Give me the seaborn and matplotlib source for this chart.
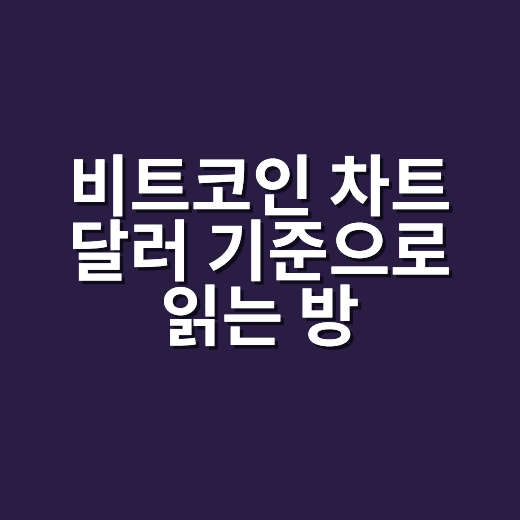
import matplotlib
matplotlib.use("Agg")
import matplotlib.pyplot as plt
import matplotlib.patheffects as pe
import seaborn as sns

# title lines shown on the card
lines = ["비트코인 차트", "달러 기준으로", "읽는 방"]
line_y = [0.633, 0.508, 0.383]

sns.set_theme(style="white")
plt.rcParams['font.family'] = ['Noto Sans CJK KR', 'DejaVu Sans']

bg = "#2a1d44"
fig = plt.figure(figsize=(5.2, 5.2), dpi=100, facecolor=bg)
ax = fig.add_axes([0, 0, 1, 1])
ax.set_facecolor(bg)
ax.set_xlim(0, 1)
ax.set_ylim(0, 1)
ax.axis("off")

shadow = [pe.withSimplePatchShadow(offset=(2.5, -2.5), shadow_rgbFace="#0c0818", alpha=0.9), pe.Normal()]
for txt, y in zip(lines, line_y):
    ax.text(0.5, y, txt, ha="center", va="center", color="white",
            fontsize=48, fontweight="bold", path_effects=shadow)

fig.savefig("out.png", dpi=100, facecolor=bg)
